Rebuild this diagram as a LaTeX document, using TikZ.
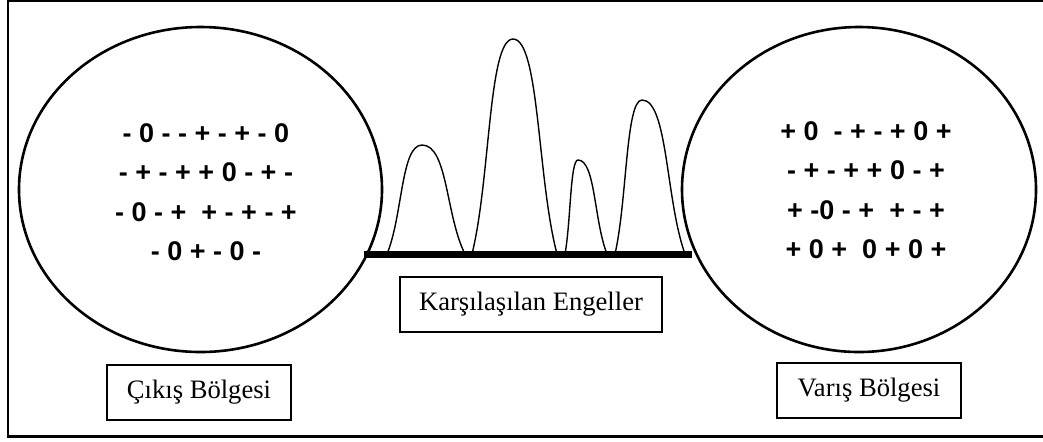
\documentclass[tikz,border=0pt]{standalone}
\usepackage{fontspec}
\usepackage{tikz}
\usetikzlibrary{shapes.geometric}
\newfontfamily\etiketfont{Liberation Serif}
\newfontfamily\yukfont{Liberation Sans}
\tikzset{
  cerceve/.style={line width=1.1pt},
  bolge/.style={ellipse,draw,line width=1.3pt,minimum height=162.5pt,inner sep=0pt},
  yuk/.style={align=center,inner sep=0pt,font={\yukfont\bfseries\fontsize{13.5}{19.75}\selectfont}},
  etiket/.style={draw,line width=.8pt,minimum height=27.5pt,inner sep=0pt,
    font={\etiketfont\fontsize{13.3}{16}\selectfont}},
  zemin/.style={line width=3.5pt},
  engelcizgi/.style={line width=.7pt}
}

\begin{document}
\begin{tikzpicture}[x=.5pt,y=-.5pt]
\newcommand{\engelciz}[4]{%
\pgfmathsetmacro{\engl}{0.45*(#2-#1)}%
\pgfmathsetmacro{\engr}{0.45*(#4-#2)}%
\pgfmathsetmacro{\engtl}{0.6*(#2-#1)}%
\pgfmathsetmacro{\engtr}{0.6*(#4-#2)}%
\pgfmathsetmacro{\engh}{0.35*(254-#3)}%
\draw[engelcizgi] (#1,254) .. controls +(\engl,-\engh) and +(-\engtl,0) .. (#2,#3)
  .. controls +(\engtr,0) and +(-\engr,-\engh) .. (#4,254);}
\useasboundingbox (0,0) rectangle (1043,441);
\draw[cerceve] (8,1) rectangle (1060,436.5);
\node[bolge,minimum width=181.5pt] (cikis) at (200.5,189.5) {};
\node[bolge,minimum width=177pt] (varis) at (859,189.5) {};
\node[yuk] (cikisyuk) at (206,192) {- 0 - - + - + - 0\\- + - + + 0 - + -\\- 0 - +~ + - + - +\\- 0 + - 0 -};
\node[yuk] (varisyuk) at (866,190) {+ 0~ - + - + 0 +\\- + - + + 0 - +\\+ -0 - +~ + - +\\+ 0 +~ 0 + 0 +};
\engelciz{387}{422}{145}{465}
\engelciz{472}{513}{39}{557}
\engelciz{565}{578}{160}{607}
\engelciz{615}{642}{100}{685}
\coordinate (zeminsol) at (364,254);
\coordinate (zeminsag) at (692,254);
\draw[zemin] (zeminsol) -- (zeminsag);
\node[etiket,minimum width=92pt] (cikisetiket) at (199,392.5) {Çıkış Bölgesi};
\node[etiket,minimum width=131pt] (engeletiket) at (531,304.5) {Karşılaşılan Engeller};
\node[etiket,minimum width=92pt] (varisetiket) at (869,390.5) {Varış Bölgesi};
\end{tikzpicture}
\end{document}
